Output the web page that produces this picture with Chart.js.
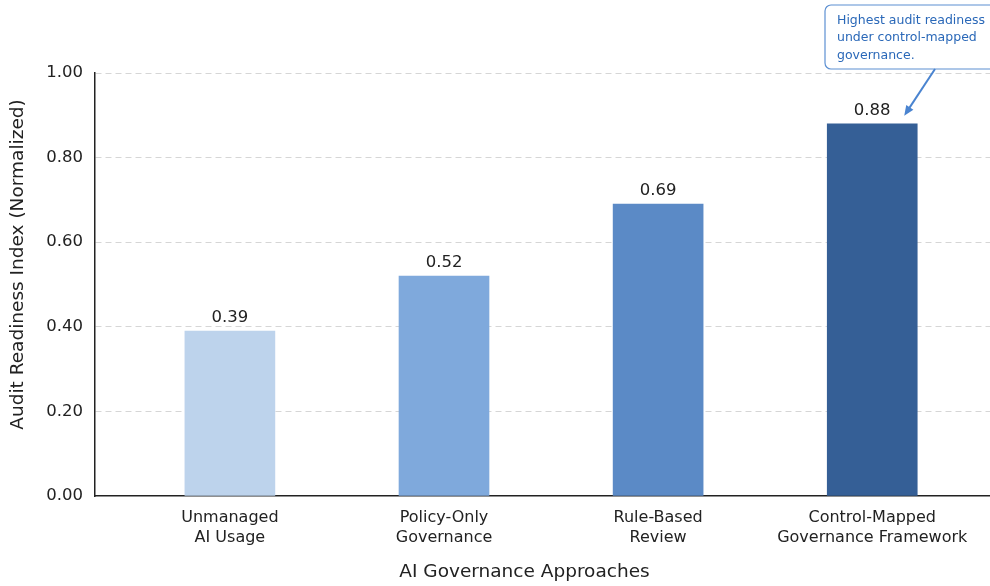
<!DOCTYPE html>
<html>
<head>
<meta charset="utf-8">
<script src="https://cdn.jsdelivr.net/npm/chart.js@4.4.1/dist/chart.umd.min.js"></script>
<style>
  html, body { margin: 0; padding: 0; background: #fff; }
  #wrap { width: 990px; height: 586px; position: relative; }
</style>
</head>
<body>
<div id="wrap"><canvas id="readinessChart"></canvas></div>
<script>
// Governance approaches and their normalized audit readiness
const categories = [
    ['Unmanaged', 'AI Usage'],
    ['Policy-Only', 'Governance'],
    ['Rule-Based', 'Review'],
    ['Control-Mapped', 'Governance Framework']
];
const readiness = [0.39, 0.52, 0.69, 0.88];
const barColors = ['#bdd3ec', '#7fa9dc', '#5b8ac6', '#355f96'];
const yTicks = [0, 0.2, 0.4, 0.6, 0.8, 1.0];
const calloutLines = ['Highest audit readiness', 'under control-mapped', 'governance.'];
const xTitle = 'AI Governance Approaches';
const yTitle = 'Audit Readiness Index (Normalized)';

const FONT = 'DejaVu Sans';

// Value labels above each bar
const valueLabels = {
    id: 'valueLabels',
    afterDatasetsDraw(chart) {
        const ctx = chart.ctx;
        const meta = chart.getDatasetMeta(0);
        ctx.save();
        ctx.font = '16.5px "' + FONT + '"';
        ctx.fillStyle = '#222';
        ctx.textAlign = 'center';
        ctx.textBaseline = 'bottom';
        meta.data.forEach(function(bar, i) {
            ctx.fillText(readiness[i].toFixed(2), bar.x, bar.y - 5);
        });
        ctx.restore();
    }
};

// Axis titles, placed a little left/up of the plot centre
const axisTitles = {
    id: 'axisTitles',
    afterDraw(chart) {
        const ctx = chart.ctx;
        const area = chart.chartArea;
        ctx.save();
        ctx.font = '18.5px "' + FONT + '"';
        ctx.fillStyle = '#222';
        ctx.textAlign = 'center';
        ctx.textBaseline = 'middle';
        ctx.fillText(xTitle, (area.left + area.right) / 2 - 18, chart.height - 14);
        ctx.translate(18, (area.top + area.bottom) / 2 - 20);
        ctx.rotate(-Math.PI / 2);
        ctx.fillText(yTitle, 0, 0);
        ctx.restore();
    }
};

// Callout box with arrow pointing at the top bar
const callout = {
    id: 'callout',
    afterDraw(chart) {
        const ctx = chart.ctx;
        const xs = chart.scales.x, ys = chart.scales.y;
        const best = readiness.indexOf(Math.max.apply(null, readiness));
        const tipX = xs.getPixelForValue(best) + 32;
        const tipY = ys.getPixelForValue(readiness[best]) - 8;
        const bx = 825, by = 5, bw = 180, bh = 64, r = 6;
        const startX = 935, startY = by + bh;

        ctx.save();
        // box
        ctx.beginPath();
        ctx.roundRect(bx, by, bw, bh, r);
        ctx.fillStyle = '#fff';
        ctx.fill();
        ctx.strokeStyle = '#5d90d2';
        ctx.lineWidth = 1.2;
        ctx.stroke();

        // arrow shaft
        const ang = Math.atan2(tipY - startY, tipX - startX);
        const head = 11;
        ctx.beginPath();
        ctx.moveTo(startX, startY);
        ctx.lineTo(tipX - Math.cos(ang) * head * 0.8, tipY - Math.sin(ang) * head * 0.8);
        ctx.strokeStyle = '#4a84d0';
        ctx.lineWidth = 2;
        ctx.stroke();
        // arrow head
        ctx.beginPath();
        ctx.moveTo(tipX, tipY);
        ctx.lineTo(tipX - head * Math.cos(ang - 0.4), tipY - head * Math.sin(ang - 0.4));
        ctx.lineTo(tipX - head * Math.cos(ang + 0.4), tipY - head * Math.sin(ang + 0.4));
        ctx.closePath();
        ctx.fillStyle = '#4a84d0';
        ctx.fill();

        // text
        ctx.font = '12.5px "' + FONT + '"';
        ctx.fillStyle = '#2a68b8';
        ctx.textAlign = 'left';
        ctx.textBaseline = 'middle';
        calloutLines.forEach(function(line, i) {
            ctx.fillText(line, bx + 12, by + 15.5 + i * 17.5);
        });
        ctx.restore();
    }
};

const ctx = document.getElementById('readinessChart').getContext('2d');
const readinessChart = new Chart(ctx, {
    type: 'bar',
    data: {
        datasets: [{
            data: readiness.map(function(v, i) { return { x: i, y: v }; }),
            backgroundColor: barColors,
            barThickness: 90,
            borderWidth: 0
        }]
    },
    options: {
        responsive: true,
        maintainAspectRatio: false,
        animation: false,
        layout: { padding: { top: 73, right: 0, left: 0, bottom: 0 } },
        plugins: {
            legend: { display: false },
            tooltip: { enabled: false }
        },
        scales: {
            x: {
                type: 'linear',
                offset: false,
                min: -0.63,
                max: 3.55,
                afterBuildTicks: function(scale) {
                    scale.ticks = categories.map(function(_, i) { return { value: i }; });
                },
                afterFit: function(scale) { scale.height = 90; },
                ticks: {
                    autoSkip: false,
                    maxRotation: 0,
                    padding: 11,
                    color: '#222',
                    font: { family: FONT, size: 16, lineHeight: 1.3 },
                    callback: function(value) { return categories[value]; }
                },
                grid: { display: false, drawTicks: false },
                border: { display: true, color: '#222', width: 1.5 }
            },
            y: {
                min: 0,
                max: 1,
                afterBuildTicks: function(scale) {
                    scale.ticks = yTicks.map(function(v) { return { value: v }; });
                },
                afterFit: function(scale) { scale.width = 95; },
                ticks: {
                    padding: 12,
                    color: '#222',
                    font: { family: FONT, size: 16.5 },
                    callback: function(value) { return value.toFixed(2); }
                },
                grid: {
                    drawTicks: false,
                    color: function(c) { return c.tick && c.tick.value === 0 ? 'rgba(0,0,0,0)' : '#d6d6d6'; },
                    lineWidth: 1
                },
                // dash applies to the horizontal grid lines
                border: { display: true, color: '#222', width: 1.5, dash: [6, 4] }
            }
        }
    },
    plugins: [valueLabels, axisTitles, callout]
});
</script>
</body>
</html>
